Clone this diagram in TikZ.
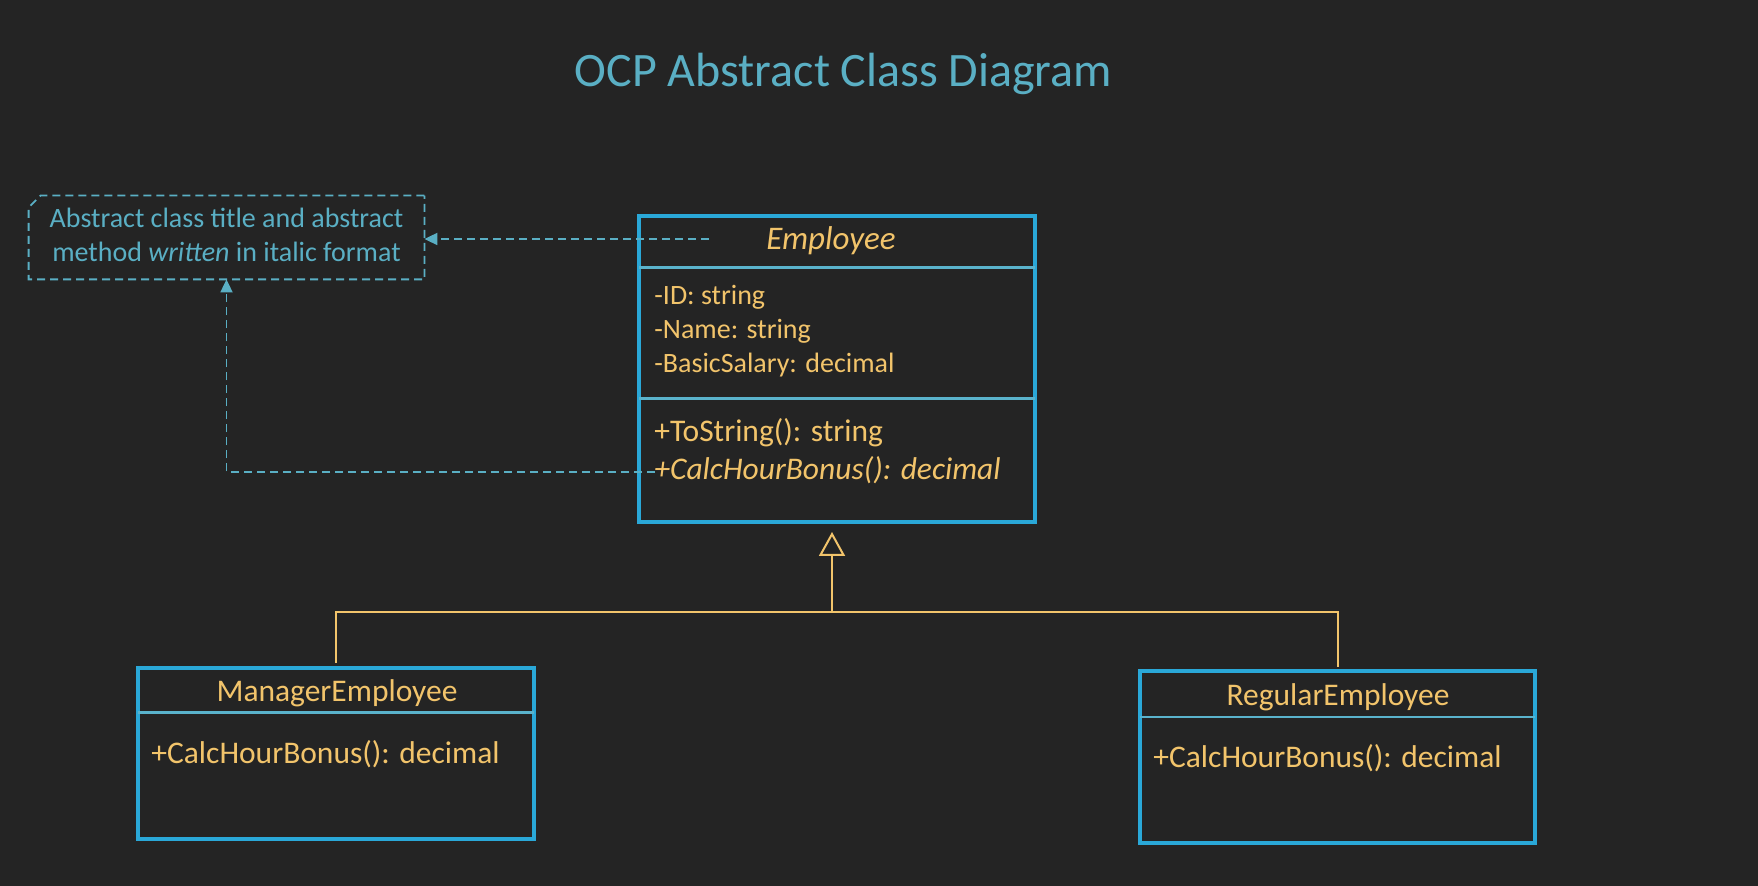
\documentclass[tikz,border=0pt]{standalone}
\usepackage{fontspec}
\setmainfont{Carlito}
\usetikzlibrary{arrows.meta}
\definecolor{bg}{HTML}{242424}
\definecolor{gold}{HTML}{F2C46B}
\definecolor{boxc}{HTML}{2AA8D8}
\definecolor{divc}{HTML}{5AB3CC}
\definecolor{notec}{HTML}{5AAFC4}
\begin{document}
\begin{tikzpicture}[x=0.5pt,y=-0.5pt,
  classbox/.style={draw=boxc, line width=2pt, inner sep=0pt},
  divider/.style={draw=divc, line width=1.3pt},
  txt/.style={inner sep=0pt, text=gold},
  attr/.style={txt, anchor=base west, font=\fontsize{14pt}{17pt}\selectfont},
  meth/.style={txt, anchor=base west, font=\fontsize{15.75pt}{19pt}\selectfont},
  ctitle/.style={txt, anchor=base, font=\fontsize{15.75pt}{19pt}\selectfont},
  dashline/.style={draw=notec, line width=0.9pt, dash pattern=on 4pt off 2.5pt},
  notelink/.style={dashline, -{Triangle[length=6.5pt,width=6pt]}},
  inhline/.style={draw=gold, line width=1pt},
]
\fill[bg] (0,0) rectangle (1758,886);
\useasboundingbox (0,0) rectangle (1758,886);

% title
\node[anchor=base, text=notec, inner sep=0pt, font=\fontsize{24pt}{28pt}\selectfont] (title) at (843.5,87) {OCP Abstract Class Diagram};

% note
\node[inner sep=0pt, minimum width=197.5pt, minimum height=41.5pt, text=notec, font=\fontsize{14pt}{17pt}\selectfont] (note) at (226.5,237.5)
  {\begin{tabular}{@{}c@{}}Abstract class title and abstract\\method \textit{written} in italic format\end{tabular}};
\draw[dashline] (note.north east) -- ([xshift=6pt]note.north west) -- ([yshift=-6pt]note.north west) -- (note.south west) -- (note.south east) -- cycle;

% Employee
\node[classbox, minimum width=198pt, minimum height=153.25pt] (emp) at (837,369.25) {};
\draw[divider] (639,267.7) -- (1035,267.7);
\draw[divider] (639,398.7) -- (1035,398.7);
\node[txt, anchor=base, font=\fontsize{16.5pt}{20pt}\selectfont\itshape] (empname) at (831,250) {Employee};
\node[attr] (a1) at (654,305) {-ID: string};
\node[attr] (a2) at (654,339) {-Name: string};
\node[attr] (a3) at (654,373) {-BasicSalary: decimal};
\node[meth] (m1) at (654,442) {+ToString(): string};
\node[meth] (m2) at (654,480) {\itshape +CalcHourBonus(): decimal};

% ManagerEmployee
\node[classbox, minimum width=198pt, minimum height=85.35pt] (mgr) at (336,753.3) {};
\draw[divider] (138,712.7) -- (534,712.7);
\node[ctitle] (mgrname) at (337,702) {ManagerEmployee};
\node[meth] (mgrm) at (151,764) {+CalcHourBonus(): decimal};

% RegularEmployee
\node[classbox, minimum width=197.75pt, minimum height=86.1pt] (reg) at (1337.5,757.1) {};
\draw[divider] (1139.7,717) -- (1535.2,717);
\node[ctitle] (regname) at (1338,706) {RegularEmployee};
\node[meth] (regm) at (1153,768) {+CalcHourBonus(): decimal};

% note links
\coordinate (c1) at (709,239);
\draw[notelink] (c1) -- (c1 -| note.east);
\coordinate (c2) at (655,472);
\draw[notelink] (c2) -| (note.south);

% inheritance
\coordinate (apex) at (832,532);
\coordinate (junc) at (832,612);
\draw[inhline] ([yshift=1.5pt]mgr.north) |- (junc) -| ([yshift=1pt]reg.north);
\draw[inhline, -{Triangle[open, length=12pt, width=13pt]}] (junc) -- (apex);
\end{tikzpicture}
\end{document}
